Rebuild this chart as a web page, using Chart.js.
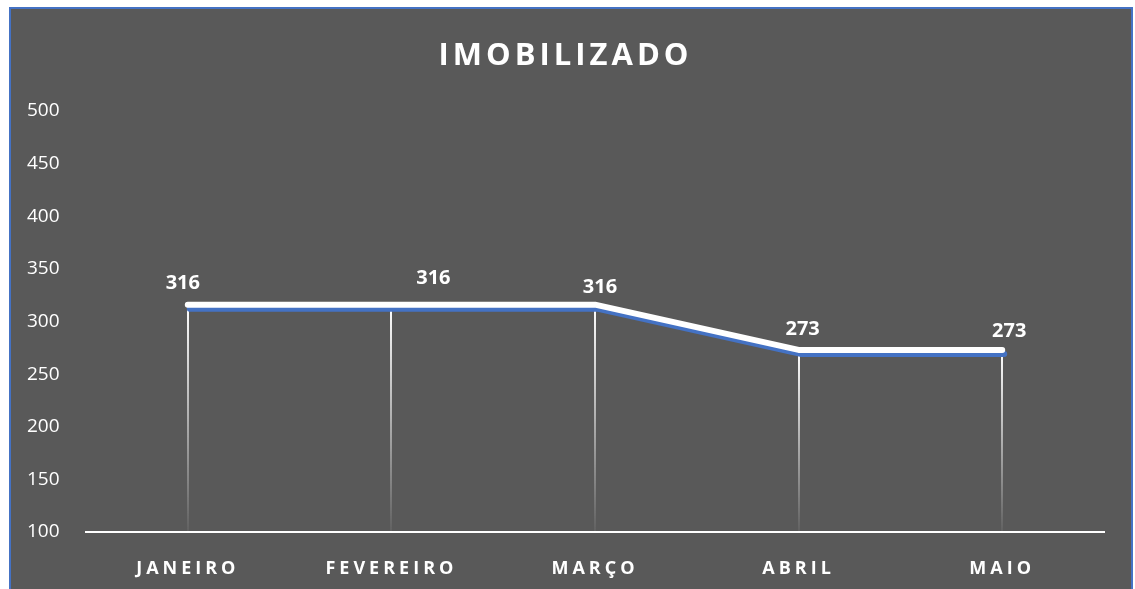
<!DOCTYPE html>
<html lang="pt">
<head>
<meta charset="UTF-8">
<title>IMOBILIZADO</title>
<script src="https://cdn.jsdelivr.net/npm/chart.js"></script>
<style>
    body { margin: 0; background: #ffffff; overflow: hidden; }
    #frame { position: absolute; left: 9px; top: 7px; width: 1120px; height: 600px; background: #595959; border: 2px solid #4472C4; }
    #box { position: absolute; left: 0; top: 0; width: 1120px; height: 580px; }
</style>
</head>
<body>
<div id="frame">
    <div id="box"><canvas id="chart"></canvas></div>
</div>
<script>
// data
const months = ['JANEIRO', 'FEVEREIRO', 'MARÇO', 'ABRIL', 'MAIO'];
const values = [316, 316, 316, 273, 273];
const yTicks = [100, 150, 200, 250, 300, 350, 400, 450, 500];

const white = '#ffffff';
const blue = '#4472C4';

// letter spacing for title and x labels (drawn before datasets), off for the rest
const spacing = {
    id: 'spacing',
    beforeDraw(chart) { chart.ctx.letterSpacing = '4px'; },
    beforeDatasetsDraw(chart) { chart.ctx.letterSpacing = '0px'; }
};

// vertical drop lines from each point to the axis, fading out
const dropLines = {
    id: 'dropLines',
    beforeDatasetsDraw(chart) {
        const ctx = chart.ctx;
        const bottom = chart.chartArea.bottom;
        chart.getDatasetMeta(0).data.forEach(pt => {
            const g = ctx.createLinearGradient(0, pt.y, 0, bottom);
            g.addColorStop(0, 'rgba(255,255,255,1)');
            g.addColorStop(1, 'rgba(255,255,255,0.05)');
            ctx.save();
            ctx.strokeStyle = g;
            ctx.lineWidth = 2;
            ctx.beginPath();
            ctx.moveTo(Math.round(pt.x), pt.y);
            ctx.lineTo(Math.round(pt.x), bottom);
            ctx.stroke();
            ctx.restore();
        });
    }
};

// blue offset shadow under the white line
const lineShadow = {
    id: 'lineShadow',
    beforeDatasetDraw(chart) {
        const ctx = chart.ctx;
        ctx.save();
        ctx.shadowColor = blue;
        ctx.shadowOffsetX = 2;
        ctx.shadowOffsetY = 4;
        ctx.shadowBlur = 0;
    },
    afterDatasetDraw(chart) { chart.ctx.restore(); }
};

// value labels above points
const labelShift = [[-5, 0], [42, -5], [5, 4], [4, 0], [7, 2]];
const valueLabels = {
    id: 'valueLabels',
    afterDatasetsDraw(chart) {
        const ctx = chart.ctx;
        ctx.save();
        ctx.letterSpacing = '0px';
        ctx.font = 'bold 20px "Open Sans"';
        ctx.fillStyle = white;
        ctx.textAlign = 'center';
        ctx.textBaseline = 'middle';
        chart.getDatasetMeta(0).data.forEach((pt, i) => {
            const s = labelShift[i];
            ctx.fillText(values[i], pt.x + s[0], pt.y - 21 + s[1]);
        });
        ctx.restore();
    }
};

new Chart(document.getElementById('chart'), {
    type: 'line',
    data: {
        labels: months,
        datasets: [{
            data: values,
            borderColor: white,
            borderWidth: 6,
            borderCapStyle: 'round',
            borderJoinStyle: 'round',
            tension: 0,
            pointRadius: 0,
            clip: false
        }]
    },
    options: {
        responsive: true,
        maintainAspectRatio: false,
        animation: false,
        devicePixelRatio: 1,
        layout: { padding: { left: 16, right: 27, top: 0, bottom: 0 } },
        plugins: {
            legend: { display: false },
            tooltip: { enabled: false },
            title: {
                display: true,
                text: 'IMOBILIZADO',
                color: white,
                font: { family: '"Open Sans"', size: 31, weight: 'bold', lineHeight: 1.2 },
                padding: { top: 29, bottom: 35.8 }
            }
        },
        scales: {
            x: {
                offset: true,
                grid: { display: false },
                border: { display: true, color: white, width: 2 },
                ticks: {
                    color: white,
                    font: { family: '"Open Sans"', size: 18, weight: 'bold' },
                    padding: 18,
                    autoSkip: false,
                    maxRotation: 0
                },
                afterFit(scale) { scale.height = 57; }
            },
            y: {
                min: 100,
                max: 500,
                grid: { display: false },
                border: { display: false },
                afterBuildTicks(scale) { scale.ticks = yTicks.map(v => ({ value: v })); },
                ticks: {
                    z: 1,
                    color: white,
                    crossAlign: 'far',
                    font: { family: '"Open Sans"', size: 19 }
                },
                afterFit(scale) { scale.width = 59; }
            }
        }
    },
    plugins: [spacing, dropLines, lineShadow, valueLabels]
});
</script>
</body>
</html>
